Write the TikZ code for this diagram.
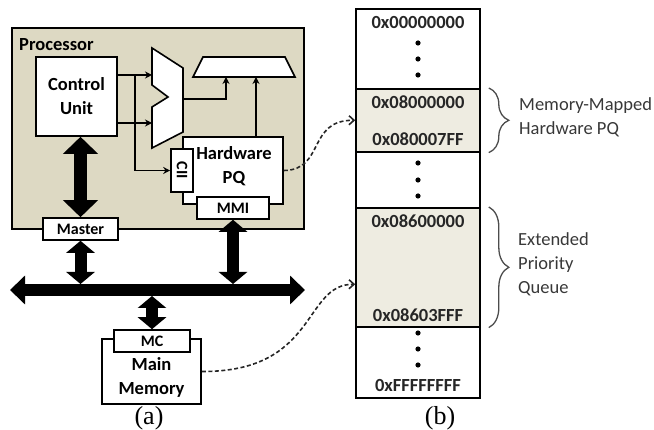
\documentclass[tikz,border=0pt]{standalone}
\usepackage{fontspec}
\setmainfont{Carlito}
\newfontfamily\capfont{Liberation Serif}
\usetikzlibrary{arrows.meta,decorations.pathreplacing}
\definecolor{procfill}{HTML}{DDD9C3}
\definecolor{regfill}{HTML}{EEECE1}
\definecolor{notegray}{HTML}{383838}

\begin{document}
\begin{tikzpicture}[x=1pt,y=-1pt,
    every node/.style={inner sep=0pt},
    blk/.style={draw,line width=1.6pt,fill=white},
    bigtext/.style={font=\fontsize{18.5}{24}\selectfont\bfseries,align=center},
    smalltext/.style={font=\fontsize{16}{18}\selectfont\bfseries},
    hex/.style={font=\fontsize{18.5}{22}\selectfont\bfseries,text=black!85},
    note/.style={font=\fontsize{18.5}{24}\selectfont,text=notegray,align=left,anchor=west},
    region/.style={draw,line width=1.6pt,minimum width=124pt,anchor=north},
    sig/.style={line width=1.4pt,-{Stealth[length=7pt,width=7pt]}},
    fatarrow/.style={line width=13pt,{Triangle[width=34pt,length=17pt]}-{Triangle[width=34pt,length=17pt]}},
    thinfat/.style={line width=12pt,{Triangle[width=28pt,length=12pt]}-{Triangle[width=28pt,length=12pt]}},
    dashlink/.style={line width=1.6pt,dash pattern=on 4pt off 2.5pt,black!85,-{Straight Barb[length=5pt,width=9pt]}},
    brc/.style={decorate,decoration={brace,amplitude=20pt},line width=1.3pt,black!70}]
  \useasboundingbox (0,0) rectangle (654,430);

  % processor
  \node[draw,line width=1.6pt,fill=procfill,minimum width=292pt,minimum height=201pt,anchor=north west] (proc) at (11,27) {};
  \node[bigtext,anchor=base west] (proclabel) at (19,51) {Processor};
  \node[blk,minimum width=81pt,minimum height=79pt,bigtext] (cu) at (76.5,96.5) {Control\\Unit};

  \draw[blk] (152,48) -- (183,68) -- (183,132) -- (152,148) -- (152,107) -- (168,97) -- (152,85) -- cycle;
  \draw[blk] (203,57) -- (285,57) -- (295,77) -- (193,77) -- cycle;
  \coordinate (muxa) at (152,75);
  \coordinate (muxb) at (152,123);
  \coordinate (muxo) at (183,99);
  \coordinate (br) at (135,75);
  \coordinate (alua) at (226,77);
  \coordinate (alub) at (256,77);

  \node[blk,minimum width=100pt,minimum height=67pt] (hwpq) at (233,170.5) {};
  \node[bigtext] (hwpqtext) at (234,166) {Hardware\\PQ};
  \node[blk,minimum width=22pt,minimum height=43pt] (cii) at (182,170.5) {};
  \node[smalltext,rotate=-90] (ciitext) at (cii) {CII};
  \node[blk,minimum width=72pt,minimum height=22pt,smalltext] (mmi) at (233,208) {MMI};
  \node[blk,minimum width=75pt,minimum height=22pt,smalltext] (master) at (80.5,229) {Master};

  \draw[sig] (cu.east |- muxa) -- (muxa);
  \draw[sig] (cu.east |- muxb) -- (muxb);
  \draw[sig] (br) |- (cii.west);
  \draw[sig] (muxo) -| (alua);
  \draw[sig] (hwpq.north -| alub) -- (alub);

  % bus
  \coordinate (busw) at (10,290);
  \coordinate (buse) at (305,290);
  \coordinate (bustop) at (10,284);
  \coordinate (busbot) at (10,296);
  \draw[line width=12pt,{Triangle[width=28pt,length=15pt]}-{Triangle[width=28pt,length=15pt]}] (busw) -- (buse);

  \node[blk,minimum width=99pt,minimum height=65pt] (mm) at (151.5,371.5) {};
  \node[bigtext] (mmtext) at (151.5,377) {Main\\Memory};
  \node[blk,minimum width=76pt,minimum height=22pt,smalltext] (mc) at (152,341) {MC};

  \draw[fatarrow] (master.north |- cu.south) -- (master.north);
  \draw[thinfat] (master.south) -- (master.south |- bustop);
  \draw[thinfat] (mmi.south) -- (mmi.south |- bustop);
  \draw[thinfat] (mc.north |- busbot) -- (mc.north);

  % memory map
  \node[region,minimum height=80pt] (r0) at (418,8) {};
  \node[region,minimum height=63pt,fill=regfill] (r1) at (418,88) {};
  \node[region,minimum height=56pt] (r2) at (418,151) {};
  \node[region,minimum height=119pt,fill=regfill] (r3) at (418,207) {};
  \node[region,minimum height=71pt] (r4) at (418,326) {};

  \node[hex] (a0) at (418,23) {0x00000000};
  \node[hex] (a1) at (418,102) {0x08000000};
  \node[hex] (a2) at (418,139) {0x080007FF};
  \node[hex] (a3) at (418,221) {0x08600000};
  \node[hex] (a4) at (418,315) {0x08603FFF};
  \node[hex] (a5) at (418,385) {0xFFFFFFFF};
  \foreach \y in {43,59,75,163,180,196,333,349,365}
    \fill (418,\y) circle (2.6pt);

  \draw[brc] ([xshift=8pt]r1.north east) -- ([xshift=8pt]r1.south east);
  \draw[brc] ([xshift=8pt]r3.north east) -- ([xshift=8pt]r3.south east);
  \node[note] (mmlabel) at (519,117) {Memory-Mapped\\Hardware PQ};
  \node[note] (eplabel) at (518,264) {Extended\\Priority\\Queue};

  \draw[dashlink] (hwpq.east) .. controls (325,170) and (307,120) .. (r1.west);
  \draw[dashlink] (mm.east) .. controls (318,372) and (303,284) .. ([yshift=-17pt]r3.west);

  \node[font=\capfont\fontsize{26}{28}\selectfont] (capa) at (149,418) {(a)};
  \node[font=\capfont\fontsize{26}{28}\selectfont] (capb) at (440,418) {(b)};
\end{tikzpicture}
\end{document}
